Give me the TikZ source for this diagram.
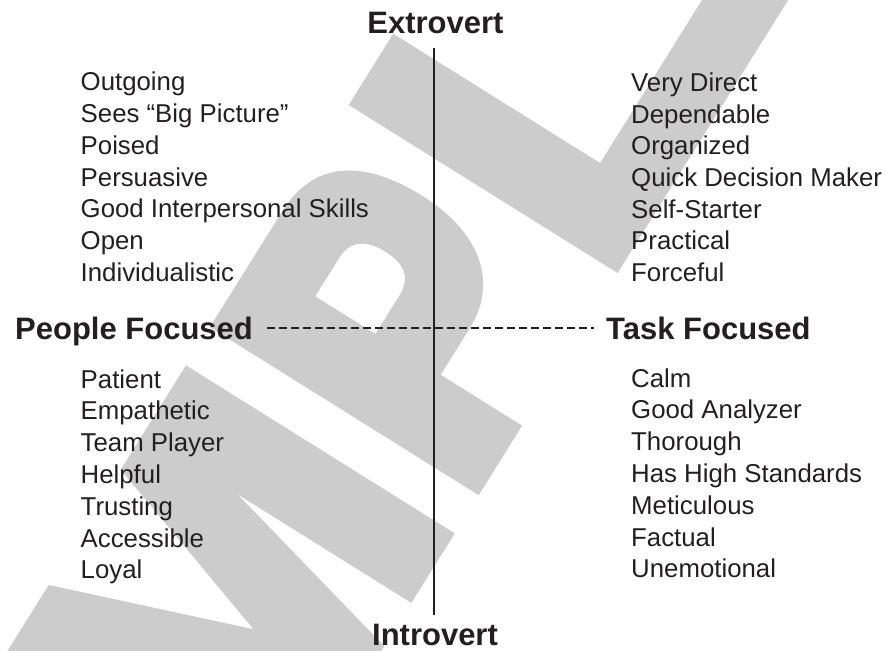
\documentclass[tikz,border=0pt]{standalone}
\usepackage{fontspec}
\setmainfont{Liberation Sans}
\definecolor{ink}{RGB}{35,31,32}
\definecolor{stampgray}{RGB}{204,204,204}
\begin{document}
\begin{tikzpicture}[x=1pt,y=-1pt,
  trait/.style={anchor=base west, inner sep=0pt, text=ink,
    font=\fontsize{25.8}{31}\selectfont},
  heading/.style={inner sep=0pt, text=ink,
    font=\bfseries\fontsize{31}{37}\selectfont},
  stampglyph/.style={fill=stampgray, even odd rule},
  axisline/.style={draw=ink, line width=2pt},
  axisdash/.style={draw=ink, line width=2pt, dash pattern=on 7.5pt off 4.5pt}]

\path[use as bounding box] (0,0) rectangle (896,650);

% diagonal stamp lettering behind everything (u along the baseline, v up the letters)
\begin{scope}
  \clip (0,0) rectangle (896,650);
  \begin{scope}[shift={(617.5,273)}, x={(0.53pt,0.848pt)}, y={(-0.848pt,0.53pt)}]
    % M
    \fill[stampglyph] (-690,0) -- (-608,0) -- (-608,200) -- (-557,0) -- (-440,0)
      -- (-389,205) -- (-389,0) -- (-307,0) -- (-307,317) -- (-430,317)
      -- (-495,120) -- (-566,317) -- (-690,317) -- cycle;
    % P with its counter
    \fill[stampglyph] (-262,0) -- (-262,317) -- (-125,317)
      .. controls (-65,317) and (-38,275) .. (-38,206)
      .. controls (-38,140) and (-70,96) .. (-125,96)
      -- (-180,96) -- (-180,0) -- cycle
      (-180,173) -- (-135,173) .. controls (-110,173) and (-105,190) .. (-105,208)
      .. controls (-105,228) and (-112,244) .. (-135,244) -- (-180,244) -- cycle;
    % L
    \fill[stampglyph] (0,0) -- (440,0) -- (440,73) -- (84,73) -- (84,317)
      -- (0,317) -- cycle;
  \end{scope}
\end{scope}

% axis labels
\node[heading, anchor=base] (extro) at (435.5,33.5) {Extrovert};
\node[heading, anchor=base] (intro) at (435,645) {Introvert};
\node[heading, anchor=base west] (people) at (15,339) {People Focused};
\node[heading, anchor=base west] (task) at (606,339) {Task Focused};

% axes
\coordinate (vtop) at (434,48);
\coordinate (vbot) at (434,615);
\coordinate (hleft) at (267,328);
\coordinate (hright) at (594,328);
\draw[axisline] (vtop) -- (vbot);
\draw[axisdash] (hleft) -- (hright);

% quadrant trait lists
\foreach \t [count=\i] in {Outgoing, Sees “Big Picture”, Poised, Persuasive,
    Good Interpersonal Skills, Open, Individualistic}
  \node[trait] (tl\i) at (80.5,{91+31.67*(\i-1)}) {\t};
\foreach \t [count=\i] in {Very Direct, Dependable, Organized,
    Quick Decision Maker, Self-Starter, Practical, Forceful}
  \node[trait] (tr\i) at (631,{91.5+31.67*(\i-1)}) {\t};
\foreach \t [count=\i] in {Patient, Empathetic, Team Player, Helpful,
    Trusting, Accessible, Loyal}
  \node[trait] (bl\i) at (80.5,{388+31.8*(\i-1)}) {\t};
\foreach \t [count=\i] in {Calm, Good Analyzer, Thorough, Has High Standards,
    Meticulous, Factual, Unemotional}
  \node[trait] (br\i) at (631,{387+31.8*(\i-1)}) {\t};
\end{tikzpicture}
\end{document}
